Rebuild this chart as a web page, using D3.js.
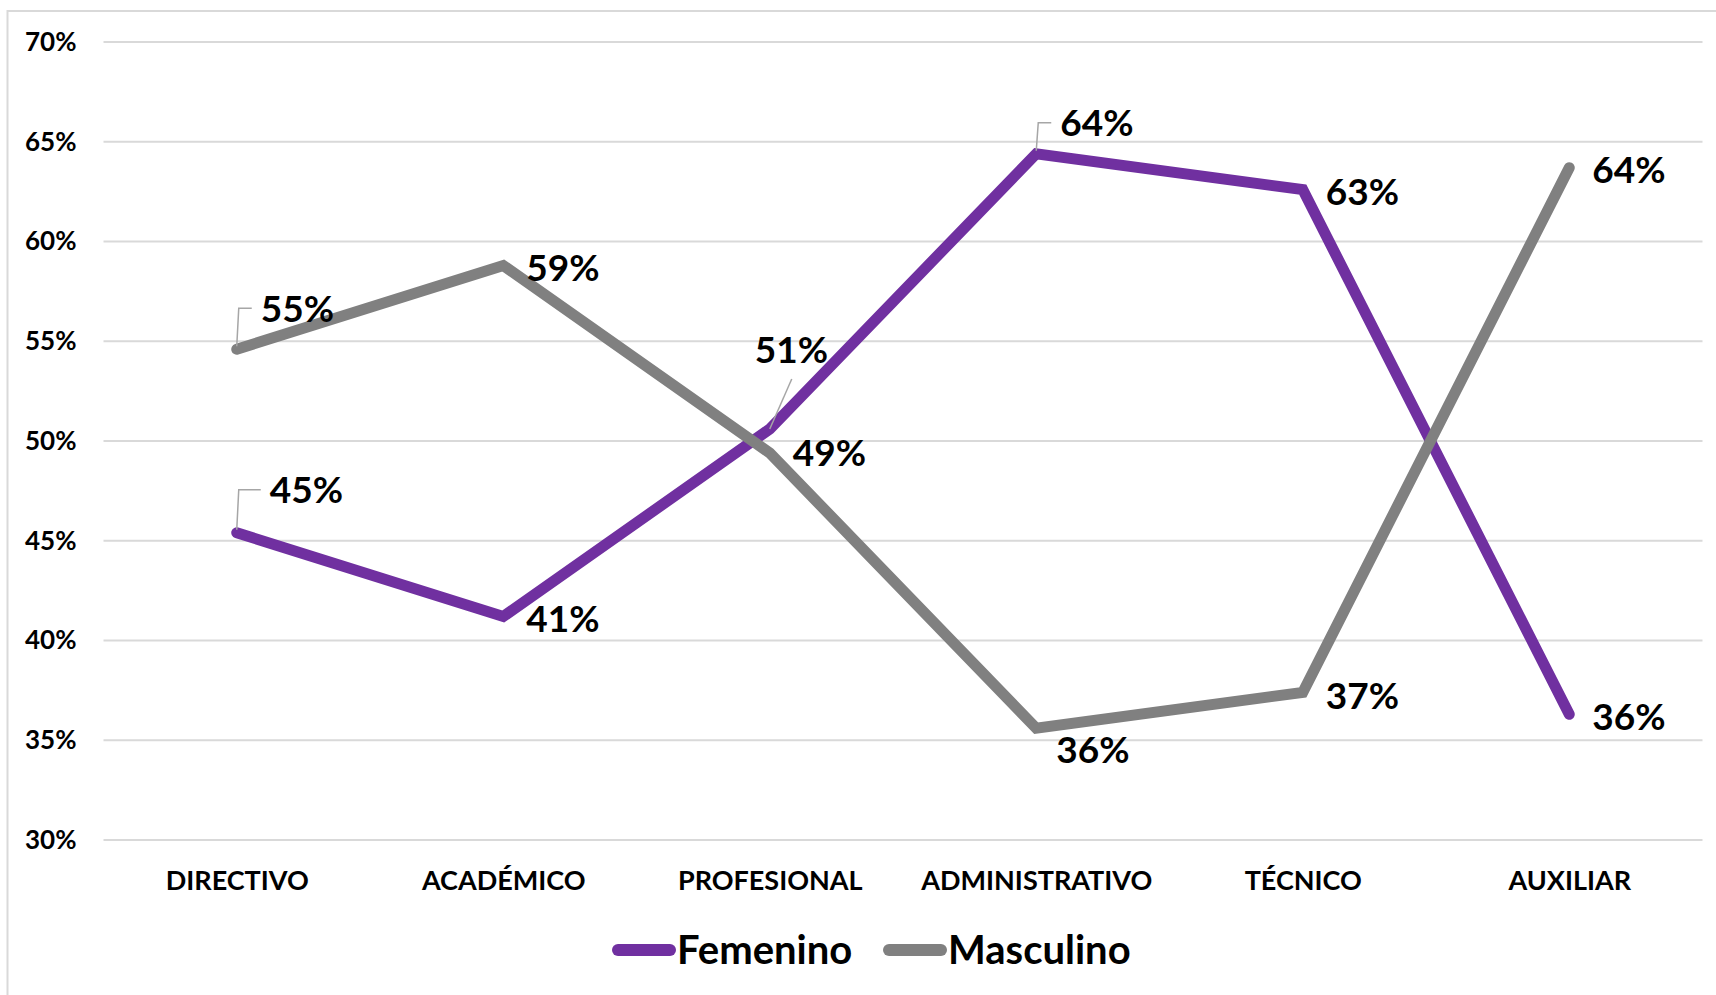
<!DOCTYPE html>
<html><head><meta charset="utf-8">
<script src="https://cdn.jsdelivr.net/npm/d3@7"></script>
<style>
html,body{margin:0;padding:0;background:#fff;}
svg{display:block;font-family:Lato,"Open Sans",sans-serif;font-weight:700;}
</style></head>
<body>
<svg id="c" width="1716" height="995"></svg>
<script>
const categories = ["DIRECTIVO","ACADÉMICO","PROFESIONAL","ADMINISTRATIVO","TÉCNICO","AUXILIAR"];
const femenino = [0.454, 0.412, 0.506, 0.644, 0.626, 0.363];
const masculino = [0.546, 0.588, 0.494, 0.356, 0.374, 0.637];
const seriesNames = ["Femenino","Masculino"];
const yTicks = [0.30,0.35,0.40,0.45,0.50,0.55,0.60,0.65,0.70];

const colors = ["#7030A0","#808080"];
const svg = d3.select("#c");
const W = 1716, H = 995;

// outer frame
svg.append("rect").attr("x",7.5).attr("y",11).attr("width",W+10).attr("height",H+10)
  .attr("fill","none").attr("stroke","#d9d9d9").attr("stroke-width",2);

const plot = {left:103.5, right:1702.5, top:42, bottom:840};
const x = d3.scalePoint().domain(categories).range([plot.left,plot.right]).padding(0.5);
const y = d3.scaleLinear().domain([0.30,0.70]).range([plot.bottom,plot.top]);

// gridlines
svg.append("g").selectAll("line").data(yTicks).join("line")
  .attr("x1",plot.left).attr("x2",plot.right)
  .attr("y1",d=>y(d)).attr("y2",d=>y(d))
  .attr("stroke","#d9d9d9").attr("stroke-width",2);

// y axis
const yAxis = svg.append("g").attr("transform",`translate(${plot.left},0)`)
  .call(d3.axisLeft(y).tickValues(yTicks).tickFormat(d3.format(".0%")).tickSize(0).tickPadding(27));
yAxis.select(".domain").remove();
yAxis.selectAll("text").attr("font-family","Lato").attr("font-weight",700)
  .attr("font-size",26).attr("fill","#000");

// x axis
const xAxis = svg.append("g").attr("transform",`translate(0,${plot.bottom})`)
  .call(d3.axisBottom(x).tickSize(0).tickPadding(31));
xAxis.select(".domain").remove();
xAxis.selectAll("text").attr("font-family","Lato").attr("font-weight",700)
  .attr("font-size",27).attr("fill","#000");

const series = [femenino, masculino];
const line = d3.line().x((d,i)=>x(categories[i])).y(d=>y(d));

series.forEach((s,k)=>{
  svg.append("path").datum(s).attr("d",line)
    .attr("fill","none").attr("stroke",colors[k]).attr("stroke-width",11)
    .attr("stroke-linecap","round").attr("stroke-linejoin","miter");
});

// label placement: [dx, dy] of text left / vertical center relative to point; leader flag
const placeF = [[33,-43,"flag"],[23,2],[-15,-79,"diag"],[24,-31,"flag"],[23,2],[23,2]];
const placeM = [[24,-41,"flag"],[23,2],[23,0],[20,21],[23,3],[23,2]];
const fmt = d3.format(".0%");
const lg = svg.append("g");
[[femenino,placeF],[masculino,placeM]].forEach(([s,pl])=>{
  s.forEach((v,i)=>{
    const px = x(categories[i]), py = y(v);
    const [dx,dy,lead] = pl[i];
    const tx = px+dx, ty = py+dy;
    if(lead==="flag"){
      lg.append("path").attr("d",`M${px},${py-3}L${px+2},${ty}L${tx-9},${ty}`)
        .attr("fill","none").attr("stroke","#a6a6a6").attr("stroke-width",1.5);
    } else if(lead==="diag"){
      lg.append("path").attr("d",`M${px},${py}L${px+22},${py-50}`)
        .attr("fill","none").attr("stroke","#a6a6a6").attr("stroke-width",1.5);
    }
    lg.append("text").attr("x",tx).attr("y",ty).attr("dy","0.36em")
      .attr("font-family","Lato").attr("font-weight",700).attr("font-size",37)
      .attr("fill","#000").text(fmt(v));
  });
});

// legend
const legX = [613, 884];
const leg = svg.append("g");
seriesNames.forEach((n,k)=>{
  leg.append("line").attr("x1",legX[k]+5).attr("x2",legX[k]+57).attr("y1",950).attr("y2",950)
    .attr("stroke",colors[k]).attr("stroke-width",12).attr("stroke-linecap","round");
  leg.append("text").attr("x",legX[k]+64).attr("y",950).attr("dy","0.36em")
    .attr("font-family","Lato").attr("font-weight",700).attr("font-size",40)
    .attr("fill","#000").text(n);
});
</script>
</body></html>
